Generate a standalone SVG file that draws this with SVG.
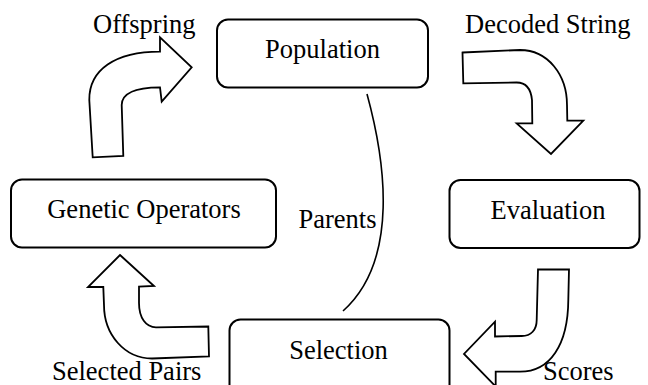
<svg xmlns="http://www.w3.org/2000/svg" width="648" height="385" viewBox="0 0 648 385">
<style>
.box{fill:#fff;stroke:#000;stroke-width:2}
.arr{fill:#fff;stroke:#000;stroke-width:1.8;stroke-linejoin:miter}
.con{fill:none;stroke:#000;stroke-width:1.6}
text{font-family:'Liberation Serif','Times New Roman',Tinos,'DejaVu Serif',serif;font-size:26.5px;fill:#000}
.c{text-anchor:middle}
</style>
<rect width="648" height="385" fill="#fff"/>
<g id="population"><rect class="box" x="217" y="19.5" width="211" height="68" rx="11"/><text class="c" x="322.5" y="57.5">Population</text></g>
<g id="genetic-operators"><rect class="box" x="11" y="179.5" width="265" height="68" rx="11"/><text class="c" x="144" y="217.5">Genetic Operators</text></g>
<g id="evaluation"><rect class="box" x="449.5" y="180" width="190" height="68" rx="11"/><text class="c" x="548" y="218.5">Evaluation</text></g>
<g id="selection"><rect class="box" x="229.5" y="319.5" width="220" height="80" rx="11"/><text class="c" x="338.5" y="358.5">Selection</text></g>
<g id="connectors">
<path class="arr" d="M92.7,157.3 L89.3,100 C89,70 115,51.7 160,51.7 L160,37.3 L191.7,67.3 L161.7,101.7 L160,87.3 C138,87.5 121.7,92 121.7,105 L123.3,156 Z"/>
<path class="arr" d="M462.5,52.5 L520,50 C548,50 567,75 567,105 L567.3,120.7 L583.3,120.7 L551,154 L516.7,123.3 L532.3,123.3 L532,100 C531,90 527,82.5 516.7,82.5 L463.3,83.3 Z"/>
<path class="arr" d="M538,269.5 L569,269.5 L568.3,300 C568,345 550,371.7 520,371.7 L495.7,371.7 L495.7,386.5 L464,354 L495,321.7 L495,336.5 L521.7,336 C531,336 536.7,330 536.7,320 Z"/>
<path class="arr" d="M120,255 L154,286 L139,286.7 L139,303 C139,318 146,327.3 156,327.3 L208.3,326.5 L209,356.5 L152,358.5 C125,358.5 104,335 104,305 L103.3,287 L88,287 Z"/>
<path class="con" d="M367,94 C385,160 400,260 343,311"/>
</g>
<text x="93" y="33">Offspring</text>
<text x="465" y="33">Decoded String</text>
<text x="298.5" y="228">Parents</text>
<text x="543" y="380">Scores</text>
<text x="52" y="380">Selected Pairs</text>
</svg>
